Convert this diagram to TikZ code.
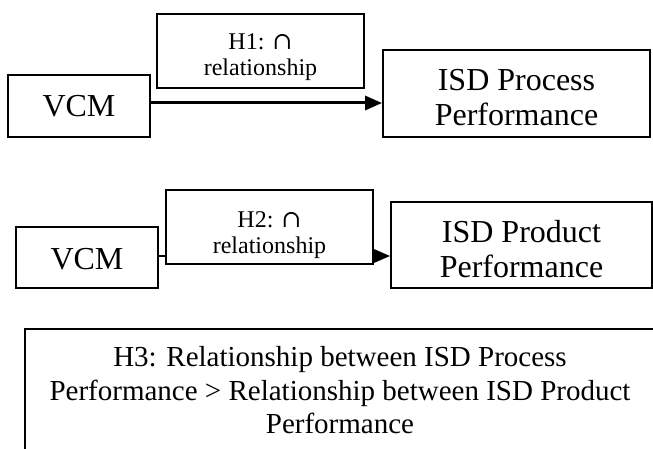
\documentclass[tikz,border=0pt]{standalone}
\usepackage{fontspec}
\setmainfont{Liberation Serif}
\newfontfamily\capsym{DejaVu Serif}
\usetikzlibrary{arrows.meta}

\begin{document}
\begin{tikzpicture}[%
    x=1pt, y=-1pt,
    box/.style={draw, line width=1.8pt, inner sep=0pt, fill=white},
    big/.style={font=\fontsize{32}{35}\selectfont, align=center},
    hyp/.style={font=\fontsize{24}{26}\selectfont, align=center},
    note/.style={font=\fontsize{29}{33.5}\selectfont, align=center},
    link/.style={-{Triangle[length=17pt,width=14pt]}, line width=#1},
    link/.default=3pt
  ]
  \useasboundingbox (0,0) rectangle (653,449);

  \node[box, minimum width=142pt, minimum height=62pt,
        label={[big]center:VCM}] (vcm1) at (79,106) {};
  \node[box, minimum width=207pt, minimum height=74pt,
        label={[hyp,yshift=-6.5pt]center:{H1: {\capsym ∩}\\relationship}}] (h1) at (260.5,51) {};
  \node[box, minimum width=267pt, minimum height=87pt,
        label={[big,yshift=-4pt]center:{ISD Process\\Performance}}] (proc) at (516.5,93.5) {};

  \draw[link] ([yshift=3pt]vcm1.east) -- ([yshift=3pt]vcm1.east -| proc.west);

  \node[box, minimum width=142pt, minimum height=61pt,
        label={[big,yshift=-1.5pt]center:VCM}] (vcm2) at (87,257.5) {};
  \node[box, minimum width=261pt, minimum height=86pt,
        label={[big,yshift=-4pt]center:{ISD Product\\Performance}}] (prod) at (521.5,245) {};

  \draw[link=2.5pt] ([yshift=1.5pt]vcm2.east) -- ([yshift=1.5pt]vcm2.east -| prod.west);

  \node[box, minimum width=207pt, minimum height=74pt,
        label={[hyp,yshift=-8.5pt]center:{H2: {\capsym ∩}\\relationship}}] (h2) at (269.5,227) {};

  \node[box, minimum width=630pt, minimum height=140pt,
        label={[note,yshift=8.5pt]center:{H3: Relationship between ISD Process\\Performance > Relationship between ISD Product\\Performance}}] (h3) at (340,399) {};
\end{tikzpicture}
\end{document}
